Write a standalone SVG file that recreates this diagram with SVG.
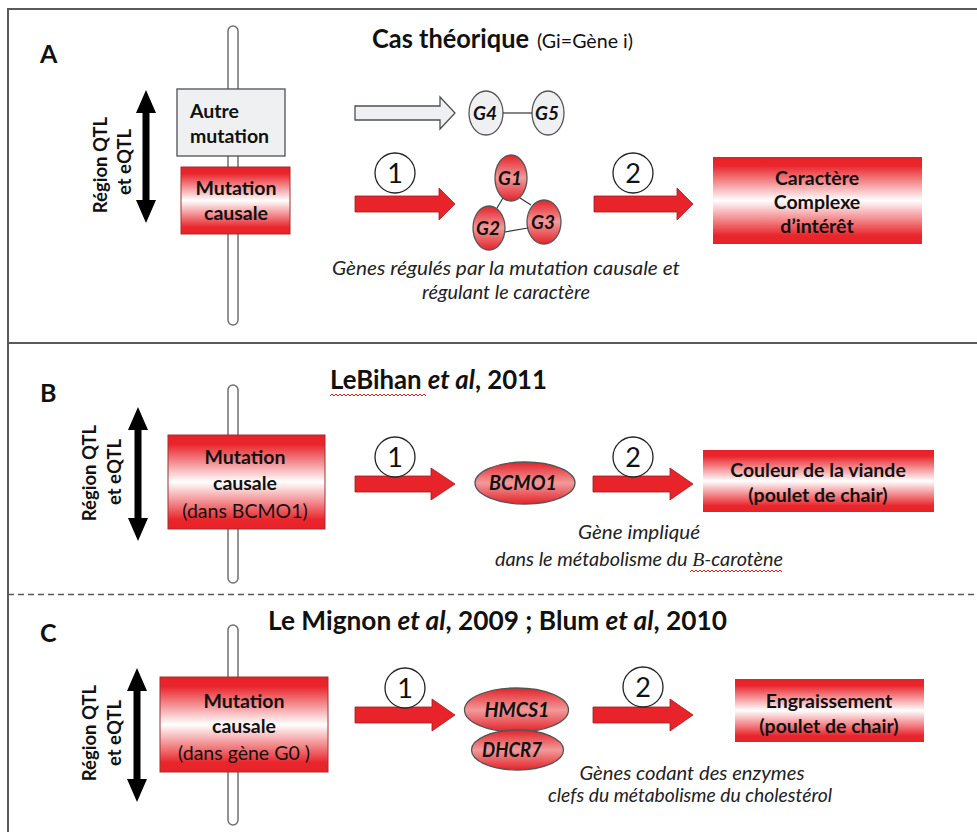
<svg xmlns="http://www.w3.org/2000/svg" width="977" height="832" viewBox="0 0 977 832">
<style>
text{font-family:Lato,"Liberation Sans",sans-serif;fill:#111}
.title{font-size:26px;font-weight:bold}
.panel{font-size:25px;font-weight:bold}
.box{font-size:19.5px;font-weight:bold;text-anchor:middle}
.boxn{font-size:19.5px;font-weight:normal;text-anchor:middle}
.rot{font-size:18.5px;font-weight:bold;text-anchor:middle}
.note{font-size:19px;font-style:italic;text-anchor:middle;fill:#222}
.gene{font-size:19px;font-weight:bold;font-style:italic;text-anchor:middle}
.gl{font-size:20px;font-weight:bold;font-style:italic;text-anchor:middle}
.num{font-size:27px;text-anchor:middle}
.frame{stroke:#5a5a5a;stroke-width:2;fill:none}
.chrom{fill:#fff;stroke:#707070;stroke-width:1.5}
.grey{fill:#eef0f2;stroke:#505050;stroke-width:1.3}
.redbox{fill:url(#rg);stroke:#a03030;stroke-width:1}
.redbox2{fill:url(#rg);stroke:none}
.ell{fill:url(#eg);stroke:#555;stroke-width:1.3}
.gell{fill:#eef0f2;stroke:#555;stroke-width:1.3}
.rarrow{fill:#e8232a;stroke:#a01a1e;stroke-width:0.8}
.warrow{fill:#eef0f2;stroke:#505050;stroke-width:1.3}
.darrow{fill:#000}
.circ{fill:#fff;stroke:#222;stroke-width:1.3}
.link{stroke:#333;stroke-width:1.2;fill:none}
.squig{stroke:#e02020;stroke-width:1;fill:none}
</style>
<defs>
<linearGradient id="rg" x1="0" y1="0" x2="0" y2="1">
<stop offset="0" stop-color="#e82128"/>
<stop offset="0.1" stop-color="#e9262c"/>
<stop offset="0.5" stop-color="#ffffff"/>
<stop offset="0.9" stop-color="#e9262c"/>
<stop offset="1" stop-color="#e82128"/>
</linearGradient>
<linearGradient id="eg" x1="0" y1="0" x2="0" y2="1">
<stop offset="0" stop-color="#e3232a"/>
<stop offset="0.5" stop-color="#f29a9a"/>
<stop offset="1" stop-color="#e3232a"/>
</linearGradient>
</defs>
<rect width="977" height="832" fill="#fff"/>

<g id="frame">
<path class="frame" d="M8,833 V9 H977"/>
<line class="frame" x1="8" y1="343" x2="977" y2="343"/>
<line x1="8" y1="594.5" x2="977" y2="594.5" stroke="#5a5a5a" stroke-width="1.5" stroke-dasharray="6,4"/>
</g>

<!-- Panel A -->
<g id="panelA-label"><text class="panel" x="40" y="63">A</text></g>
<g id="titleA">
<text class="title" x="372" y="48" textLength="157" lengthAdjust="spacingAndGlyphs">Cas théorique</text>
<text x="537" y="48" font-size="19" textLength="96" lengthAdjust="spacingAndGlyphs">(Gi=Gène i)</text>
</g>
<g id="chromA"><rect class="chrom" x="228" y="26" width="10" height="299" rx="5"/></g>
<g id="regionA">
<polygon class="darrow" points="146,90 156,113 149.5,113 149.5,200 156,200 146,223 136,200 142.5,200 142.5,113 136,113"/>
<text class="rot" transform="translate(107,165) rotate(-90)">Région QTL</text>
<text class="rot" transform="translate(131,162) rotate(-90)">et eQTL</text>
</g>
<g id="autreA">
<rect class="grey" x="177" y="89" width="108" height="67"/>
<text x="190" y="118" font-size="19.5" font-weight="bold">Autre</text>
<text x="190" y="143" font-size="19.5" font-weight="bold">mutation</text>
</g>
<g id="mutA">
<rect class="redbox" x="181" y="167" width="109" height="67"/>
<text class="box" x="236" y="195">Mutation</text>
<text class="box" x="236" y="220">causale</text>
</g>
<g id="G4"><ellipse class="gell" cx="486" cy="113" rx="17" ry="22"/><text class="gene" x="485" y="120">G4</text></g>
<g id="G5"><ellipse class="gell" cx="548" cy="113" rx="16" ry="22"/><text class="gene" x="547" y="120">G5</text></g>
<g id="G1"><ellipse class="ell" cx="511" cy="178" rx="16" ry="23"/><text class="gene" x="510" y="185">G1</text></g>
<g id="G2"><ellipse class="ell" cx="489" cy="228" rx="16" ry="22"/><text class="gene" x="488" y="235">G2</text></g>
<g id="G3"><ellipse class="ell" cx="544" cy="222" rx="17" ry="22"/><text class="gene" x="543" y="229">G3</text></g>
<g id="caractereA">
<rect class="redbox2" x="713" y="157" width="209" height="87"/>
<text class="box" x="817" y="185">Caractère</text>
<text class="box" x="817" y="209">Complexe</text>
<text class="box" x="817" y="233">d’intérêt</text>
</g>
<g id="noteA">
<text class="note" font-size="20" x="506" y="275" textLength="348" lengthAdjust="spacingAndGlyphs">Gènes régulés par la mutation causale et</text>
<text class="note" font-size="20" x="506" y="299" textLength="168" lengthAdjust="spacingAndGlyphs">régulant le caractère</text>
</g>

<!-- Panel B -->
<g id="panelB-label"><text class="panel" x="40" y="402">B</text></g>
<g id="titleB"><text class="title" x="330" y="389" textLength="217" lengthAdjust="spacingAndGlyphs">LeBihan <tspan font-style="italic">et al</tspan>, 2011</text>
<path class="squig" d="M330,396 l2,-2 l2,2 l2,-2 l2,2 l2,-2 l2,2 l2,-2 l2,2 l2,-2 l2,2 l2,-2 l2,2 l2,-2 l2,2 l2,-2 l2,2 l2,-2 l2,2 l2,-2 l2,2 l2,-2 l2,2 l2,-2 l2,2 l2,-2 l2,2 l2,-2 l2,2 l2,-2 l2,2 l2,-2 l2,2 l2,-2 l2,2 l2,-2 l2,2 l2,-2 l2,2 l2,-2 l2,2 l2,-2 l2,2 l2,-2 l2,2 l2,-2 l2,2 l2,-2 l2,2"/>
</g>
<g id="chromB"><rect class="chrom" x="228" y="385" width="10" height="198" rx="5"/></g>
<g id="regionB">
<polygon class="darrow" points="138,407 148,430 141.5,430 141.5,518 148,518 138,541 128,518 134.5,518 134.5,430 128,430"/>
<text class="rot" transform="translate(96,473) rotate(-90)">Région QTL</text>
<text class="rot" transform="translate(121,472) rotate(-90)">et eQTL</text>
</g>
<g id="mutB">
<rect class="redbox" x="168" y="435" width="157" height="94"/>
<text class="box" x="245" y="464">Mutation</text>
<text class="box" x="245" y="490">causale</text>
<text class="boxn" x="245" y="518">(dans BCMO1)</text>
</g>
<g id="BCMO1"><ellipse class="ell" cx="525" cy="483" rx="50" ry="21"/><text class="gl" x="523" y="490" textLength="68" lengthAdjust="spacingAndGlyphs">BCMO1</text></g>
<g id="couleurB">
<rect class="redbox2" x="703" y="450" width="231" height="62"/>
<text class="box" x="818" y="477">Couleur de la viande</text>
<text class="box" x="818" y="502">(poulet de chair)</text>
</g>
<g id="noteB">
<text class="note" x="639" y="539" textLength="122" lengthAdjust="spacingAndGlyphs">Gène impliqué</text>
<text class="note" x="639" y="566" textLength="288" lengthAdjust="spacingAndGlyphs">dans le métabolisme du <tspan font-family="'Liberation Serif',serif">B</tspan>-carotène</text>
<path class="squig" d="M690,572 l2,-2 l2,2 l2,-2 l2,2 l2,-2 l2,2 l2,-2 l2,2 l2,-2 l2,2 l2,-2 l2,2 l2,-2 l2,2 l2,-2 l2,2 l2,-2 l2,2 l2,-2 l2,2 l2,-2 l2,2 l2,-2 l2,2 l2,-2 l2,2 l2,-2 l2,2 l2,-2 l2,2 l2,-2 l2,2 l2,-2 l2,2 l2,-2 l2,2 l2,-2 l2,2 l2,-2 l2,2 l2,-2 l2,2 l2,-2 l2,2 l2,-2 l2,2"/>
</g>

<!-- Panel C -->
<g id="panelC-label"><text class="panel" x="40" y="642">C</text></g>
<g id="titleC"><text class="title" x="268" y="630" textLength="459" lengthAdjust="spacingAndGlyphs">Le Mignon <tspan font-style="italic">et al</tspan>, 2009 ; Blum <tspan font-style="italic">et al</tspan>, 2010</text></g>
<g id="chromC"><rect class="chrom" x="228" y="625" width="10" height="200" rx="5"/></g>
<g id="regionC">
<polygon class="darrow" points="137,668 147,691 140.5,691 140.5,779 147,779 137,802 127,779 133.5,779 133.5,691 127,691"/>
<text class="rot" transform="translate(96,733) rotate(-90)">Région QTL</text>
<text class="rot" transform="translate(121,733) rotate(-90)">et eQTL</text>
</g>
<g id="mutC">
<rect class="redbox" x="160" y="677" width="168" height="95"/>
<text class="box" x="244" y="708">Mutation</text>
<text class="box" x="244" y="733">causale</text>
<text class="boxn" x="244" y="760">(dans gène G0 )</text>
</g>
<g id="HMCS1"><ellipse class="ell" cx="516.5" cy="710" rx="52" ry="22"/><text class="gl" x="517" y="717" textLength="65" lengthAdjust="spacingAndGlyphs">HMCS1</text></g>
<g id="DHCR7"><ellipse class="ell" cx="517.5" cy="750" rx="46" ry="20"/><text class="gl" x="512" y="757" textLength="60" lengthAdjust="spacingAndGlyphs">DHCR7</text></g>
<g id="engrC">
<rect class="redbox2" x="735" y="679" width="189" height="63"/>
<text class="box" x="829" y="708">Engraissement</text>
<text class="box" x="829" y="733">(poulet de chair)</text>
</g>
<g id="noteC">
<text class="note" x="692" y="780" textLength="225" lengthAdjust="spacingAndGlyphs">Gènes codant des enzymes</text>
<text class="note" x="690" y="802" textLength="284" lengthAdjust="spacingAndGlyphs">clefs du métabolisme du cholestérol</text>
</g>

<g id="connectors">
<polygon class="warrow" points="355,106 440,106 440,97 455,113 440,129 440,120 355,120"/>
<line class="link" x1="503" y1="113" x2="532" y2="113"/>
<line class="link" x1="503" y1="198" x2="497" y2="208"/>
<line class="link" x1="520" y1="198" x2="531" y2="205"/>
<line class="link" x1="505" y1="232" x2="528" y2="228"/>
<polygon class="rarrow" points="355,196 439,196 439,188 455,204 439,220 439,212 355,212"/>
<polygon class="rarrow" points="594,196 677,196 677,188 693,204 677,220 677,212 594,212"/>
<polygon class="rarrow" points="355,476 431,476 431,468 455,484 431,500 431,492 355,492"/>
<polygon class="rarrow" points="593,476 670,476 670,468 693,484 670,500 670,492 593,492"/>
<polygon class="rarrow" points="355,707 432,707 432,699 455,715 432,731 432,723 355,723"/>
<polygon class="rarrow" points="593,707 670,707 670,699 693,715 670,731 670,723 593,723"/>
<g id="step1A"><circle class="circ" cx="395" cy="173" r="20"/><text class="num" x="395" y="183">1</text></g>
<g id="step2A"><circle class="circ" cx="633" cy="173" r="20"/><text class="num" x="633" y="183">2</text></g>
<g id="step1B"><circle class="circ" cx="395" cy="457" r="20"/><text class="num" x="395" y="467">1</text></g>
<g id="step2B"><circle class="circ" cx="633" cy="457" r="20"/><text class="num" x="633" y="467">2</text></g>
<g id="step1C"><circle class="circ" cx="405" cy="688" r="20"/><text class="num" x="405" y="698">1</text></g>
<g id="step2C"><circle class="circ" cx="643" cy="687" r="20"/><text class="num" x="643" y="697">2</text></g>
</g>
</svg>
